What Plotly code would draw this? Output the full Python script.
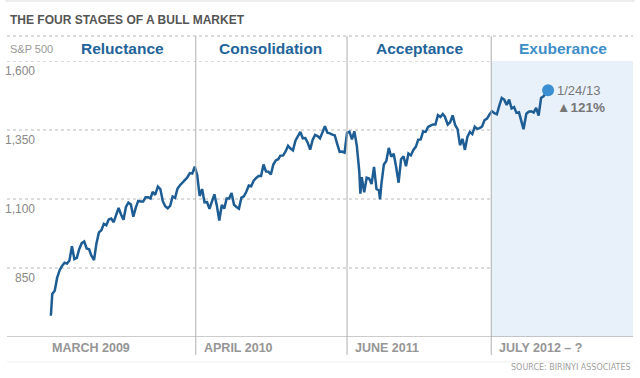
import plotly.graph_objects as go

dates = [
"2009-03-09","2009-03-13","2009-03-20","2009-03-27","2009-04-03","2009-04-09","2009-04-17","2009-04-24","2009-05-01","2009-05-08","2009-05-15","2009-05-22","2009-05-29","2009-06-05","2009-06-12","2009-06-19","2009-06-26","2009-07-02","2009-07-10","2009-07-17","2009-07-24","2009-07-31","2009-08-07","2009-08-14","2009-08-21","2009-08-28","2009-09-04","2009-09-11","2009-09-18","2009-09-25","2009-10-02","2009-10-09","2009-10-16","2009-10-23","2009-10-30","2009-11-06","2009-11-13","2009-11-20","2009-11-27","2009-12-04","2009-12-11","2009-12-18","2009-12-24","2009-12-31",
"2010-01-08","2010-01-15","2010-01-22","2010-01-29","2010-02-05","2010-02-12","2010-02-19","2010-02-26","2010-03-05","2010-03-12","2010-03-19","2010-03-26","2010-04-02","2010-04-09","2010-04-16","2010-04-23","2010-04-30","2010-05-07","2010-05-14","2010-05-21","2010-05-28","2010-06-04","2010-06-11","2010-06-18","2010-06-25","2010-07-02","2010-07-09","2010-07-16","2010-07-23","2010-07-30","2010-08-06","2010-08-13","2010-08-20","2010-08-27","2010-09-03","2010-09-10","2010-09-17","2010-09-24","2010-10-01","2010-10-08","2010-10-15","2010-10-22","2010-10-29","2010-11-05","2010-11-12","2010-11-19","2010-11-26","2010-12-03","2010-12-10","2010-12-17","2010-12-23","2010-12-31",
"2011-01-07","2011-01-14","2011-01-21","2011-01-28","2011-02-04","2011-02-11","2011-02-18","2011-02-25","2011-03-04","2011-03-11","2011-03-18","2011-03-25","2011-04-01","2011-04-08","2011-04-15","2011-04-21","2011-04-29","2011-05-06","2011-05-13","2011-05-20","2011-05-27","2011-06-03","2011-06-10","2011-06-17","2011-06-24","2011-07-01","2011-07-08","2011-07-15","2011-07-22","2011-07-29","2011-08-05","2011-08-08","2011-08-12","2011-08-19","2011-08-26","2011-09-02","2011-09-09","2011-09-16","2011-09-23","2011-09-30","2011-10-03","2011-10-07","2011-10-14","2011-10-21","2011-10-28","2011-11-04","2011-11-11","2011-11-18","2011-11-25","2011-12-02","2011-12-09","2011-12-16","2011-12-23","2011-12-30",
"2012-01-06","2012-01-13","2012-01-20","2012-01-27","2012-02-03","2012-02-10","2012-02-17","2012-02-24","2012-03-02","2012-03-09","2012-03-16","2012-03-23","2012-03-30","2012-04-05","2012-04-13","2012-04-20","2012-04-27","2012-05-04","2012-05-11","2012-05-18","2012-05-25","2012-06-01","2012-06-08","2012-06-15","2012-06-22","2012-06-29","2012-07-06","2012-07-13","2012-07-20","2012-07-27","2012-08-03","2012-08-10","2012-08-17","2012-08-24","2012-08-31","2012-09-07","2012-09-14","2012-09-21","2012-09-28","2012-10-05","2012-10-12","2012-10-19","2012-10-26","2012-11-02","2012-11-09","2012-11-15","2012-11-23","2012-11-30","2012-12-07","2012-12-14","2012-12-21","2012-12-28",
"2013-01-04","2013-01-11","2013-01-18","2013-01-24"]

sp500 = [
677,756,768,815,842,856,869,866,877,929,882,887,919,940,946,921,918,896,879,940,979,987,1010,1005,1026,1029,1016,1042,1068,1044,1025,1071,1087,1080,1036,1069,1093,1091,1091,1106,1106,1102,1126,1115,
1145,1136,1092,1074,1066,1075,1109,1104,1138,1150,1160,1167,1178,1194,1192,1217,1187,1111,1136,1088,1089,1064,1092,1117,1076,1022,1078,1065,1102,1102,1122,1079,1071,1065,1105,1110,1126,1149,1146,1166,1176,1183,1183,1225,1200,1199,1189,1225,1240,1244,1257,1258,
1272,1293,1283,1276,1311,1329,1343,1320,1321,1304,1279,1314,1332,1328,1320,1338,1364,1340,1338,1333,1331,1300,1271,1272,1268,1340,1344,1316,1345,1292,1199,1119,1179,1124,1177,1174,1154,1216,1136,1131,1099,1155,1225,1238,1285,1253,1264,1216,1159,1244,1255,1219,1265,1258,
1278,1289,1315,1316,1345,1343,1361,1366,1370,1370,1404,1397,1408,1398,1370,1378,1403,1369,1353,1295,1318,1278,1325,1343,1335,1362,1354,1357,1363,1386,1391,1406,1418,1411,1407,1438,1466,1460,1441,1460,1428,1433,1412,1414,1380,1353,1409,1416,1418,1413,1430,1402,
1466,1472,1486,1494]

stages = ["Reluctance", "Consolidation", "Acceptance", "Exuberance"]
stage_starts = ["MARCH 2009", "APRIL 2010", "JUNE 2011", "JULY 2012 \u2013 ?"]
dividers = ["2010-04-26", "2011-07-01", "2012-08-15"]
y_ticks = [850, 1100, 1350, 1600]
y_tick_labels = ["850", "1,100", "1,350", "1,600"]
end_label = "1/24/13"
gain_label = "\u25b2<b>121%</b>"

FONT = "Liberation Sans, Arial, sans-serif"
x0, x1 = "2008-11-04", "2013-09-23"

fig = go.Figure()
fig.add_trace(go.Scatter(x=dates, y=sp500, mode="lines",
                         line=dict(color="#1d5d94", width=2.5), hoverinfo="skip"))
fig.add_trace(go.Scatter(x=[dates[-1]], y=[sp500[-1]], mode="markers",
                         marker=dict(color="#3a8fd2", size=12), hoverinfo="skip"))

shapes = []
shapes.append(dict(type="rect", xref="x", yref="y", x0=dividers[2], x1=x1, y0=600, y1=1600,
                   fillcolor="#e8f1fa", line=dict(width=0), layer="below"))
for v in y_ticks:
    shapes.append(dict(type="line", xref="paper", yref="y", x0=0, x1=1, y0=v, y1=v,
                       line=dict(color="#b8b8b8", width=1, dash="dot"), layer="below"))
shapes.append(dict(type="line", xref="paper", yref="paper", x0=0, x1=1, y0=1.0906, y1=1.0906,
                   line=dict(color="#b8b8b8", width=1, dash="dot")))
shapes.append(dict(type="line", xref="paper", yref="paper", x0=-0.003, x1=1.003, y0=1.2174, y1=1.2174,
                   line=dict(color="#dddddd", width=1)))
shapes.append(dict(type="line", xref="paper", yref="y", x0=0, x1=1, y0=600, y1=600,
                   line=dict(color="#999999", width=1.2)))
shapes.append(dict(type="line", xref="paper", yref="paper", x0=0, x1=1, y0=-0.0906, y1=-0.0906,
                   line=dict(color="#eeeeee", width=1)))
for d in dividers:
    shapes.append(dict(type="line", xref="x", yref="paper", x0=d, x1=d, y0=-0.065, y1=1.0906,
                       line=dict(color="#b0b0b0", width=1)))

annotations = []
annotations.append(dict(text="<b>THE FOUR STAGES OF A BULL MARKET</b>", xref="paper", yref="paper",
                        x=0.0016, y=1.1486, xanchor="left", yanchor="middle", showarrow=False,
                        font=dict(family=FONT, size=12, color="#555555")))
annotations.append(dict(text="S&P 500", xref="paper", yref="paper", x=0.0016, y=1.0435,
                        xanchor="left", yanchor="middle", showarrow=False,
                        font=dict(family=FONT, size=11, color="#999999")))
stage_x = [0.1853, 0.4217, 0.6597, 0.888]
stage_col = ["#22649a", "#22649a", "#22649a", "#3d8ec9"]
for s, sx, c in zip(stages, stage_x, stage_col):
    annotations.append(dict(text="<b>%s</b>" % s, xref="paper", yref="paper", x=sx, y=1.0435,
                            xanchor="center", yanchor="middle", showarrow=False,
                            font=dict(family=FONT, size=15.5, color=c)))
label_x = ["2009-03-09", "2010-04-26", "2011-07-01", "2012-08-15"]
for t, lx, sh in zip(stage_starts, label_x, [-1, 6, 6, 6]):
    annotations.append(dict(text="<b>%s</b>" % t, x=lx, xref="x", yref="paper", y=-0.0399,
                            xanchor="left", yanchor="middle", xshift=sh, showarrow=False,
                            font=dict(family=FONT, size=12.5, color="#959595")))
for v, t in zip(y_ticks, y_tick_labels):
    annotations.append(dict(text=t, xref="paper", yref="y", x=0.048, y=v, xanchor="right",
                            yanchor="middle", yshift=-10, showarrow=False,
                            font=dict(family=FONT, size=12, color="#888888")))
annotations.append(dict(text=end_label, x=dates[-1], y=sp500[-1], xanchor="left", yanchor="middle",
                        xshift=7, yshift=0, showarrow=False,
                        font=dict(family=FONT, size=13, color="#777777")))
annotations.append(dict(text=gain_label, x=dates[-1], y=sp500[-1], xanchor="left", yanchor="middle",
                        xshift=7, yshift=-17, showarrow=False,
                        font=dict(family=FONT, size=13.5, color="#777777")))
annotations.append(dict(text="SOURCE: BIRINYI ASSOCIATES", xref="paper", yref="paper", x=1.0, y=-0.1087,
                        xanchor="right", yanchor="middle", showarrow=False,
                        font=dict(family="DejaVu Sans, sans-serif", size=8, color="#a0a0a0")))

fig.update_layout(
    width=640, height=378,
    margin=dict(l=7, r=7, t=61, b=41),
    paper_bgcolor="white", plot_bgcolor="white",
    showlegend=False,
    xaxis=dict(type="date", range=[x0, x1], showgrid=False, showticklabels=False,
               zeroline=False, showline=False, ticks=""),
    yaxis=dict(range=[600, 1600], showgrid=False, showticklabels=False, zeroline=False,
               showline=False, ticks=""),
    shapes=shapes, annotations=annotations,
)
fig.write_html("out.html", config={"displayModeBar": False},
               post_script="document.body.style.margin='0';document.body.style.overflow='hidden';")
